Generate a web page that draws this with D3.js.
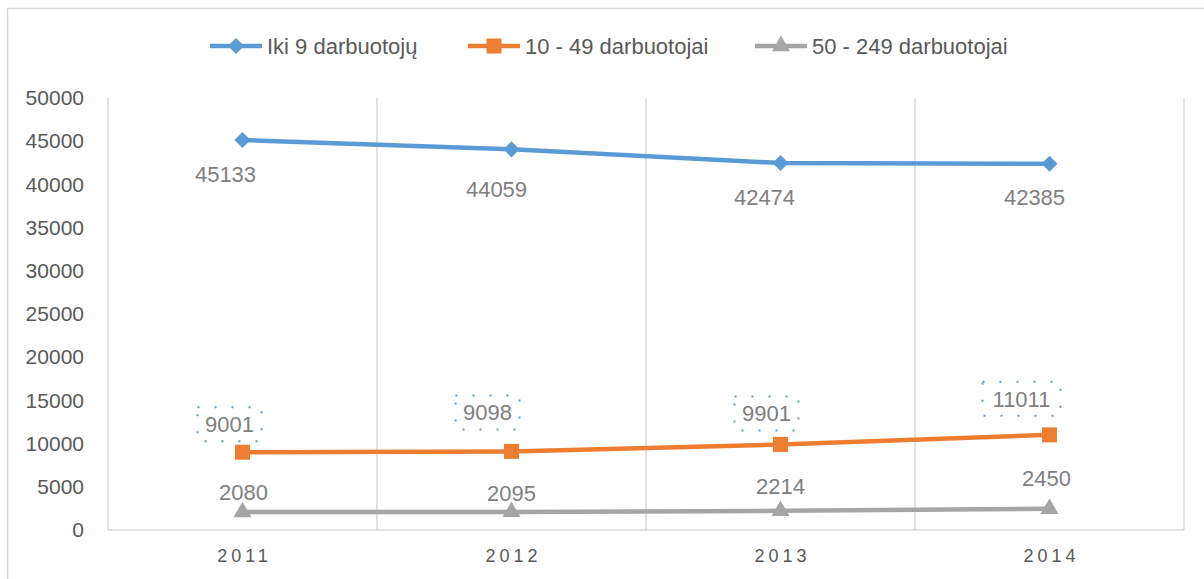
<!DOCTYPE html>
<html>
<head>
<meta charset="utf-8">
<script src="https://cdn.jsdelivr.net/npm/d3@7"></script>
<style>
  body { margin: 0; background: #fff; }
  text { font-family: "Liberation Sans", Arial, sans-serif; }
</style>
</head>
<body>
<div id="chart"></div>
<script>
const years = ["2011", "2012", "2013", "2014"];
const seriesNames = ["Iki 9 darbuotojų", "10 - 49 darbuotojai", "50 - 249 darbuotojai"];
const micro = [45133, 44059, 42474, 42385];
const small = [9001, 9098, 9901, 11011];
const medium = [2080, 2095, 2214, 2450];
const yTicks = [0, 5000, 10000, 15000, 20000, 25000, 30000, 35000, 40000, 45000, 50000];

const width = 1204;
const height = 579;
const margin = { left: 108, top: 98, right: 20, bottom: 49 };
const colors = ["#5b9bd5", "#ed7d31", "#a5a5a5"];
const textColor = "#595959";
const labelColor = "#7f7f7f";
const gridColor = "#d9d9d9";

// label offsets from each point, as placed in the original
const microOffsets = [[-17, 34], [-15, 40], [-16, 34], [-15, 34]];
const smallOffsets = [[-13, -28], [-24, -39], [-14, -31], [-28, -36]];
const mediumOffsets = [[1, -20], [0, -19], [0, -25], [-3, -31]];

const diamond = {
  draw(ctx, size) {
    const r = Math.sqrt(size) / 2 * Math.SQRT2;
    ctx.moveTo(0, -r);
    ctx.lineTo(r, 0);
    ctx.lineTo(0, r);
    ctx.lineTo(-r, 0);
    ctx.closePath();
  },
};

const series = [
  { name: seriesNames[0], values: micro, color: colors[0], marker: diamond, size: 130, offsets: microOffsets },
  { name: seriesNames[1], values: small, color: colors[1], marker: d3.symbolSquare, size: 225, offsets: smallOffsets, boxed: true },
  { name: seriesNames[2], values: medium, color: colors[2], marker: d3.symbolTriangle, size: 140, offsets: mediumOffsets },
];

const svg = d3.select("#chart").append("svg")
  .attr("width", width)
  .attr("height", height);

// outer frame
svg.append("rect")
  .attr("x", 7.5).attr("y", 8.5)
  .attr("width", width).attr("height", height)
  .attr("fill", "none")
  .attr("stroke", gridColor)
  .attr("stroke-width", 1.5);

const x = d3.scaleBand()
  .domain(years)
  .range([margin.left, width - margin.right]);

const y = d3.scaleLinear()
  .domain([0, 50000])
  .range([height - margin.bottom, margin.top]);

// vertical gridlines at category boundaries
const bounds = years.map((d) => x(d)).concat([x(years[years.length - 1]) + x.bandwidth()]);
svg.append("g")
  .selectAll("line")
  .data(bounds)
  .join("line")
  .attr("x1", (d) => d).attr("x2", (d) => d)
  .attr("y1", y(50000)).attr("y2", y(0))
  .attr("stroke", gridColor)
  .attr("stroke-width", 1.5);

// bottom axis line
svg.append("line")
  .attr("x1", x.range()[0]).attr("x2", x.range()[1])
  .attr("y1", y(0)).attr("y2", y(0))
  .attr("stroke", gridColor)
  .attr("stroke-width", 1.5);

// y axis labels
const yAxis = svg.append("g")
  .attr("transform", "translate(" + margin.left + ",0)")
  .call(d3.axisLeft(y).tickValues(yTicks).tickSize(0).tickPadding(24).tickFormat(d3.format("d")));
yAxis.select(".domain").remove();
yAxis.selectAll("text")
  .attr("fill", textColor)
  .style("font-size", "21px")
  .style("font-family", "Liberation Sans, Arial, sans-serif");

// x axis labels
const xAxis = svg.append("g")
  .attr("transform", "translate(0," + y(0) + ")")
  .call(d3.axisBottom(x).tickSize(0).tickPadding(19));
xAxis.select(".domain").remove();
xAxis.selectAll("text")
  .attr("fill", textColor)
  .attr("dx", "2px")
  .style("font-size", "18px")
  .style("letter-spacing", "4px")
  .style("font-family", "Liberation Sans, Arial, sans-serif");

const cx = (i) => x(years[i]) + x.bandwidth() / 2;

const line = d3.line()
  .x((d, i) => cx(i))
  .y((d) => y(d));

series.forEach((s) => {
  svg.append("path")
    .datum(s.values)
    .attr("fill", "none")
    .attr("stroke", s.color)
    .attr("stroke-width", 4.5)
    .attr("stroke-linejoin", "round")
    .attr("d", line);

  svg.append("g")
    .selectAll("path")
    .data(s.values)
    .join("path")
    .attr("transform", (d, i) => "translate(" + cx(i) + "," + y(d) + ")")
    .attr("d", d3.symbol().type(s.marker).size(s.size))
    .attr("fill", s.color);
});

// data labels
series.forEach((s) => {
  const g = svg.append("g");
  s.values.forEach((v, i) => {
    const lx = cx(i) + s.offsets[i][0];
    const ly = y(v) + s.offsets[i][1];
    if (s.boxed) {
      const w = v >= 10000 ? 78 : 64;
      g.append("rect")
        .attr("x", lx - w / 2).attr("y", ly - 17)
        .attr("width", w).attr("height", 34)
        .attr("fill", "none")
        .attr("stroke", "#5b9bd5")
        .attr("stroke-width", 2)
        .attr("stroke-dasharray", "2,15");
    }
    g.append("text")
      .attr("x", lx)
      .attr("y", ly)
      .attr("dy", "0.35em")
      .attr("text-anchor", "middle")
      .attr("fill", labelColor)
      .style("font-size", "22px")
      .text(v);
  });
});

// legend
const legendX = [210, 468, 755];
const legend = svg.append("g")
  .selectAll("g")
  .data(series)
  .join("g")
  .attr("transform", (d, i) => "translate(" + legendX[i] + ",46)");

legend.append("line")
  .attr("x1", 0).attr("x2", 52)
  .attr("stroke", (d) => d.color)
  .attr("stroke-width", 4.5);

legend.append("path")
  .attr("transform", "translate(26,0)")
  .attr("d", (d) => d3.symbol().type(d.marker).size(d.size)())
  .attr("fill", (d) => d.color);

legend.append("text")
  .attr("x", 57)
  .attr("dy", "0.35em")
  .attr("fill", textColor)
  .style("font-size", "22px")
  .text((d) => d.name);
</script>
</body>
</html>
